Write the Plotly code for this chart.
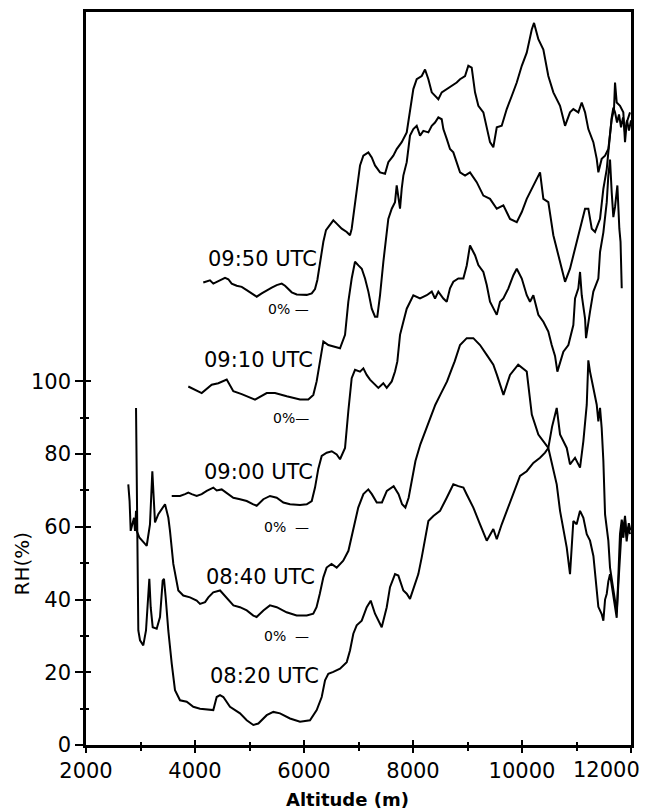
import plotly.graph_objects as go

# ---- data (altitude in m, RH in % relative to each profile's own 0% baseline) ----
alt_0820 = [2918, 2960, 2991, 3051, 3101, 3125, 3162, 3187, 3224, 3297, 3358, 3407, 3431, 3462, 3510,
            3573, 3633, 3725, 3848, 3969, 4092, 4336, 4398, 4459, 4520, 4642, 4826, 4949, 5070, 5162,
            5316, 5437, 5560, 5743, 5927, 6110, 6233, 6325, 6386, 6446, 6538, 6661, 6784, 6844, 6905,
            6967, 7059, 7151, 7224, 7303, 7426, 7518, 7578, 7670, 7731, 7823, 7885, 7945, 8037, 8098,
            8160, 8221, 8282, 8374, 8496, 8619, 8740, 8832, 8925, 8986, 9107, 9230, 9353, 9474, 9537,
            9628, 9749, 9841, 9964, 10087, 10208, 10331, 10423, 10483, 10551, 10637, 10698, 10821, 10881,
            10973, 11065, 11126, 11188, 11217, 11248, 11309, 11371, 11401, 11432, 11462, 11493, 11524,
            11584, 11615, 11646, 11676, 11707, 11738, 11770, 11798, 11830, 11860, 11890, 11920, 11950, 11982]
rh_0820 = [92.7, 31.5, 28.8, 27.4, 31.5, 37.9, 45.7, 37.9, 32.4, 32.0, 35.2, 45.2, 45.7, 40.6, 31.5,
           22.4, 15.1, 12.3, 11.9, 10.5, 10.0, 9.6, 13.2, 13.7, 13.2, 10.5, 8.7, 6.8, 5.5, 5.9,
           8.2, 9.1, 8.7, 7.3, 6.4, 6.8, 9.6, 13.2, 17.8, 19.6, 20.1, 21.0, 22.8, 26.0, 30.6,
           32.9, 34.2, 37.9, 39.7, 36.1, 32.4, 37.9, 43.4, 47.0, 46.6, 42.5, 41.6, 40.2, 44.3, 47.0,
           51.6, 56.2, 61.6, 63.0, 64.4, 68.0, 71.7, 71.2, 70.8, 68.9, 65.3, 60.7, 56.2, 59.4, 56.6,
           60.7, 65.3, 68.9, 74.0, 75.3, 77.6, 79.0, 80.4, 81.7, 87.5, 92.7, 85.4, 81.7, 77.2,
           79.0, 76.3, 83.6, 93.6, 105.8, 102.7, 98.2, 93.6, 89.0, 92.7, 87.2, 78.1, 63.4,
           56.2, 48.8, 45.2, 42.0, 39.7, 36.5, 45.0, 55.0, 60.0, 57.0, 62.0, 56.0, 60.0, 58.0]

alt_0840 = [2776, 2800, 2820, 2855, 2881, 2899, 2918, 2930, 2978, 3083, 3114, 3174, 3217, 3266, 3327,
            3450, 3511, 3541, 3602, 3694, 3785, 3908, 4031, 4092, 4185, 4245, 4335, 4460, 4580, 4705,
            4825, 4950, 5070, 5130, 5255, 5375, 5500, 5680, 5865, 6050, 6170, 6230, 6290, 6355, 6415,
            6505, 6600, 6720, 6815, 6905, 6995, 7090, 7180, 7245, 7335, 7430, 7520, 7645, 7735, 7800,
            7860, 7920, 7980, 8045, 8135, 8225, 8320, 8410, 8500, 8625, 8715, 8765, 8863, 8986, 9107,
            9230, 9353, 9474, 9540, 9660, 9780, 9930, 10087, 10180, 10300, 10483, 10637, 10698, 10821,
            10881, 10942, 11003, 11065, 11126, 11188, 11248, 11310, 11371, 11401, 11462, 11493, 11524,
            11555, 11584, 11615, 11646, 11676, 11707, 11738, 11770, 11798, 11830, 11859, 11890, 11922,
            11960, 11990]
rh_0840 = [41.7, 37.0, 28.9, 30.7, 32.5, 28.9, 34.4, 28.9, 27.1, 25.3, 24.8, 30.7, 45.3, 31.2, 33.5,
           36.2, 32.5, 28.9, 19.8, 12.5, 11.1, 10.6, 9.7, 8.8, 9.3, 10.6, 12.0, 12.5, 10.6, 8.4,
           7.9, 7.0, 5.6, 5.2, 7.0, 8.4, 7.9, 6.5, 5.6, 5.6, 6.1, 7.9, 11.6, 16.1, 18.8,
           19.8, 18.8, 20.7, 23.4, 29.8, 35.3, 39.0, 40.3, 39.0, 36.7, 36.7, 39.9, 41.2, 39.0, 36.2,
           35.3, 38.0, 42.6, 48.1, 52.7, 56.3, 60.0, 63.6, 66.3, 70.0, 73.6, 75.5, 80.0, 81.9, 81.9,
           80.0, 77.3, 74.6, 71.8, 66.3, 71.8, 74.6, 72.7, 60.9, 55.4, 51.7, 41.7, 34.4, 24.3,
           17.0, 31.6, 30.7, 34.4, 32.5, 28.0, 26.2, 22.0, 11.6, 8.0, 6.0, 4.2, 10.0,
           11.6, 15.0, 17.0, 14.0, 11.6, 8.0, 5.0, 20.0, 28.0, 32.0, 29.0, 33.0, 27.0,
           31.0, 29.0]

alt_0900 = [3573, 3725, 3817, 3877, 3940, 4031, 4123, 4215, 4336, 4398, 4490, 4582, 4703, 4826, 4949,
            5070, 5132, 5254, 5376, 5499, 5621, 5743, 5927, 6050, 6142, 6202, 6263, 6325, 6417, 6509,
            6600, 6661, 6753, 6813, 6875, 6936, 7028, 7089, 7150, 7211, 7303, 7364, 7455, 7518, 7610,
            7670, 7713, 7762, 7823, 7885, 8006, 8129, 8252, 8344, 8404, 8465, 8557, 8619, 8679, 8740,
            8832, 8924, 8986, 9046, 9138, 9199, 9291, 9353, 9413, 9474, 9537, 9597, 9658, 9750, 9842,
            9904, 9996, 10087, 10147, 10208, 10300, 10392, 10483, 10545, 10606, 10649, 10698, 10759,
            10851, 10942, 10973, 11034, 11065, 11096, 11157, 11175, 11248, 11309, 11401, 11432, 11493,
            11555, 11584, 11615, 11646, 11676, 11707, 11750, 11786, 11808, 11830]
rh_0900 = [8.5, 8.5, 9.0, 9.4, 9.0, 8.5, 9.0, 9.9, 10.8, 10.0, 10.3, 9.4, 8.0, 7.6, 7.1,
           6.2, 5.8, 7.6, 8.5, 8.0, 6.7, 6.2, 6.0, 6.2, 7.1, 10.8, 16.0, 19.5, 20.4, 20.8,
           19.9, 18.6, 21.7, 31.8, 40.9, 43.2, 42.7, 43.6, 41.8, 40.5, 39.1, 38.2, 39.5, 38.2, 40.0,
           42.7, 45.5, 52.8, 56.4, 60.0, 63.7, 62.8, 63.7, 64.7, 62.8, 64.7, 62.8, 61.9, 65.6, 67.4,
           68.3, 68.3, 71.9, 77.4, 74.7, 72.0, 70.1, 66.5, 61.9, 60.0, 58.3, 61.9, 62.8, 65.6, 69.2,
           71.0, 68.3, 63.7, 61.9, 63.7, 58.3, 56.4, 53.7, 50.0, 47.0, 42.7, 45.5, 48.2,
           50.0, 55.5, 62.8, 65.6, 70.1, 63.7, 57.3, 51.9, 59.2, 64.7, 68.3, 75.6, 81.0,
           89.3, 96.6, 101.0, 92.0, 85.2, 88.0, 93.9, 82.0, 78.4, 65.6]

alt_0910 = [3877, 4123, 4306, 4428, 4582, 4703, 4857, 5101, 5316, 5468, 5683, 5927, 6079, 6171, 6232,
            6280, 6325, 6355, 6446, 6538, 6661, 6753, 6813, 6875, 6936, 6998, 7060, 7120, 7181, 7243,
            7303, 7345, 7395, 7456, 7505, 7547, 7610, 7670, 7701, 7731, 7762, 7793, 7823, 7885, 7945,
            8006, 8068, 8129, 8190, 8282, 8344, 8404, 8465, 8527, 8557, 8619, 8679, 8740, 8802, 8863,
            8955, 9046, 9169, 9291, 9413, 9537, 9658, 9780, 9904, 9996, 10087, 10179, 10239, 10331,
            10392, 10483, 10575, 10698, 10790, 10881, 10973, 11065, 11157, 11217, 11280, 11340, 11432,
            11493, 11555, 11584, 11615, 11646, 11676, 11707, 11744, 11780, 11817, 11854, 11890, 11927,
            11963, 12000]
rh_0910 = [8.6, 6.8, 9.1, 9.5, 10.5, 7.3, 6.5, 5.0, 6.8, 6.8, 5.9, 5.0, 5.0, 6.3, 10.0,
           14.6, 19.1, 21.0, 20.0, 19.6, 19.1, 22.8, 31.9, 38.3, 42.9, 41.9, 41.0, 38.3, 34.7, 30.0,
           27.8, 27.8, 33.7, 42.9, 50.2, 54.7, 57.5, 59.3, 63.9, 61.0, 57.5, 63.0, 66.6, 70.3, 77.6,
           79.4, 80.3, 77.6, 78.9, 78.5, 80.3, 81.2, 82.6, 82.1, 79.4, 76.7, 73.9, 73.0, 70.3, 67.5,
           66.6, 67.5, 64.8, 61.1, 60.2, 57.5, 58.4, 54.7, 53.8, 56.6, 60.2, 62.9, 64.8, 67.5,
           60.2, 59.3, 50.2, 42.9, 37.4, 41.0, 46.5, 52.0, 57.5, 57.5, 52.0, 51.1, 54.7,
           63.0, 68.4, 73.0, 78.5, 82.6, 85.3, 84.0, 81.2, 83.4, 79.9, 82.6, 78.5, 81.8,
           79.0, 81.8]

alt_0950 = [4152, 4215, 4275, 4336, 4398, 4459, 4551, 4612, 4673, 4765, 4857, 4949, 5041, 5132, 5224,
            5316, 5408, 5499, 5591, 5652, 5713, 5775, 5866, 5958, 6050, 6142, 6202, 6245, 6282, 6325,
            6355, 6404, 6477, 6538, 6600, 6692, 6784, 6844, 6875, 6905, 6967, 7028, 7089, 7181, 7243,
            7303, 7395, 7487, 7547, 7639, 7701, 7793, 7885, 7945, 8006, 8068, 8160, 8221, 8282, 8344,
            8404, 8465, 8527, 8619, 8711, 8802, 8863, 8955, 9015, 9077, 9138, 9199, 9291, 9413, 9474,
            9537, 9628, 9720, 9812, 9904, 9996, 10087, 10179, 10221, 10300, 10392, 10483, 10575, 10698,
            10790, 10881, 10942, 11034, 11096, 11157, 11217, 11309, 11371, 11401, 11462, 11524, 11584,
            11646, 11688, 11707, 11738, 11798, 11859, 11890, 11922, 11982]
rh_0950 = [7.2, 7.6, 7.8, 6.9, 7.4, 7.9, 8.5, 8.1, 6.9, 6.3, 6.0, 5.1, 4.2, 3.3, 4.2,
           5.1, 5.8, 6.5, 6.9, 6.3, 5.4, 4.5, 3.9, 3.8, 3.8, 4.2, 5.4, 7.9, 11.5, 14.7,
           18.4, 21.6, 22.9, 24.3, 23.4, 22.0, 21.1, 20.2, 22.0, 25.7, 33.0, 39.4, 42.1, 43.0, 41.6,
           39.4, 37.5, 37.1, 40.3, 42.1, 43.9, 45.8, 48.5, 54.0, 60.4, 63.1, 64.0, 65.8, 63.1, 59.5,
           58.5, 57.6, 59.5, 60.4, 61.3, 62.2, 63.1, 64.0, 66.8, 66.3, 59.5, 55.8, 54.0, 45.8, 44.4,
           49.9, 50.3, 54.9, 58.5, 62.2, 66.8, 70.4, 76.8, 78.6, 74.1, 71.3, 64.0, 59.5, 55.8,
           50.3, 54.0, 54.9, 54.0, 56.7, 54.0, 49.4, 45.8, 41.2, 37.5, 41.2, 42.1, 43.9,
           52.1, 54.9, 62.2, 56.7, 55.8, 54.0, 45.8, 51.2, 54.0]

series_labels = ["08:20 UTC", "08:40 UTC", "09:00 UTC", "09:10 UTC", "09:50 UTC"]
series_offsets = [0, 30, 60, 90, 120]  # vertical shift of each profile on the RH axis
series_alt = [alt_0820, alt_0840, alt_0900, alt_0910, alt_0950]
series_rh = [rh_0820, rh_0840, rh_0900, rh_0910, rh_0950]

x_tick_vals = [2000, 4000, 6000, 8000, 10000, 12000]
x_tick_text = ["2000", "4000", "6000", "8000", "10000", ""]  # 12000 drawn separately (shifted in)
x_minor_vals = [3000, 5000, 7000, 9000, 11000]
y_tick_vals = [0, 20, 40, 60, 80, 100]
y_minor_vals = [10, 30, 50, 70, 90]

FONT = "DejaVu Sans, Verdana, sans-serif"
X_RANGE = [2000, 12000]
Y_RANGE = [0, 201.6]

fig = go.Figure()
for alt, rh, off, name in zip(series_alt, series_rh, series_offsets, series_labels):
    fig.add_trace(go.Scatter(x=alt, y=[v + off for v in rh], mode="lines", name=name,
                             line=dict(color="black", width=2), showlegend=False,
                             hoverinfo="skip"))
# empty trace so the overlay axes (inner half of the crossing ticks) get drawn
fig.add_trace(go.Scatter(x=[], y=[], xaxis="x2", yaxis="y2", showlegend=False, hoverinfo="skip"))

# curve labels (right edge altitude, vertical centre on the RH axis)
label_pos = {"08:20 UTC": (6310, 18.9), "08:40 UTC": (6240, 46.3), "09:00 UTC": (6205, 75.1),
             "09:10 UTC": (6205, 105.8), "09:50 UTC": (6280, 133.6)}
annotations = []
for name in series_labels:
    x, y = label_pos[name]
    annotations.append(dict(x=x, y=y, xref="x", yref="y", text=name, showarrow=False,
                            xanchor="right", yanchor="middle",
                            font=dict(family=FONT, size=21, color="black")))
zero_text = {30: "0%  —", 60: "0%  —", 90: "0%—", 120: "0% —"}
for off in series_offsets[1:]:
    annotations.append(dict(x=6135, y=off, xref="x", yref="y", text=zero_text[off], showarrow=False,
                            xanchor="right", yanchor="middle",
                            font=dict(family=FONT, size=14, color="black")))
annotations.append(dict(x=-0.117, y=50, xref="paper", yref="y", text="RH(%)", textangle=-90,
                        showarrow=False, xanchor="center", yanchor="middle",
                        font=dict(family=FONT, size=20, color="black")))
annotations.append(dict(x=0.479, y=-0.0747, xref="paper", yref="paper", text="<b>Altitude (m)</b>",
                        showarrow=False, xanchor="center", yanchor="middle",
                        font=dict(family=FONT, size=18, color="black")))
annotations.append(dict(x=1.02, y=-25 / 736, xref="paper", yref="paper",
                        text="12000", showarrow=False, xanchor="right", yanchor="middle",
                        font=dict(family=FONT, size=21, color="black")))

tick_font = dict(family=FONT, size=21, color="black")

fig.update_layout(
    width=646, height=812,
    margin=dict(l=86, r=15, t=9, b=67),
    paper_bgcolor="white", plot_bgcolor="white",
    showlegend=False,
    annotations=annotations,
    xaxis=dict(range=X_RANGE, tickmode="array", tickvals=x_tick_vals, ticktext=x_tick_text,
               showline=True, linewidth=2.5, linecolor="black", mirror=True, showgrid=False,
               zeroline=False, ticks="outside", ticklen=5, tickwidth=1.5, tickcolor="black",
               tickfont=tick_font,
               minor=dict(tickmode="array", tickvals=x_minor_vals, ticks="outside", ticklen=3,
                          tickwidth=1.5, tickcolor="black")),
    yaxis=dict(range=Y_RANGE, tickmode="array", tickvals=y_tick_vals,
               showline=True, linewidth=2.5, linecolor="black", mirror=True, showgrid=False,
               zeroline=False, ticks="outside", ticklen=8, tickwidth=1.5, tickcolor="black",
               tickfont=tick_font,
               minor=dict(tickmode="array", tickvals=y_minor_vals, ticks="outside", ticklen=3,
                          tickwidth=1.5, tickcolor="black")),
    xaxis2=dict(range=X_RANGE, overlaying="x", anchor="y2", side="bottom", showline=False,
                showgrid=False, zeroline=False, showticklabels=False, tickmode="array",
                tickvals=x_tick_vals, ticks="inside", ticklen=5, tickwidth=1.5, tickcolor="black",
                minor=dict(tickmode="array", tickvals=x_minor_vals, ticks="inside", ticklen=3,
                           tickwidth=1.5, tickcolor="black")),
    yaxis2=dict(range=Y_RANGE, overlaying="y", anchor="x2", side="left", showline=False,
                showgrid=False, zeroline=False, showticklabels=False, tickmode="array",
                tickvals=y_tick_vals, ticks="inside", ticklen=5, tickwidth=1.5, tickcolor="black",
                minor=dict(tickmode="array", tickvals=y_minor_vals, ticks="inside", ticklen=3,
                           tickwidth=1.5, tickcolor="black")),
)

fig.write_html("out.html")
